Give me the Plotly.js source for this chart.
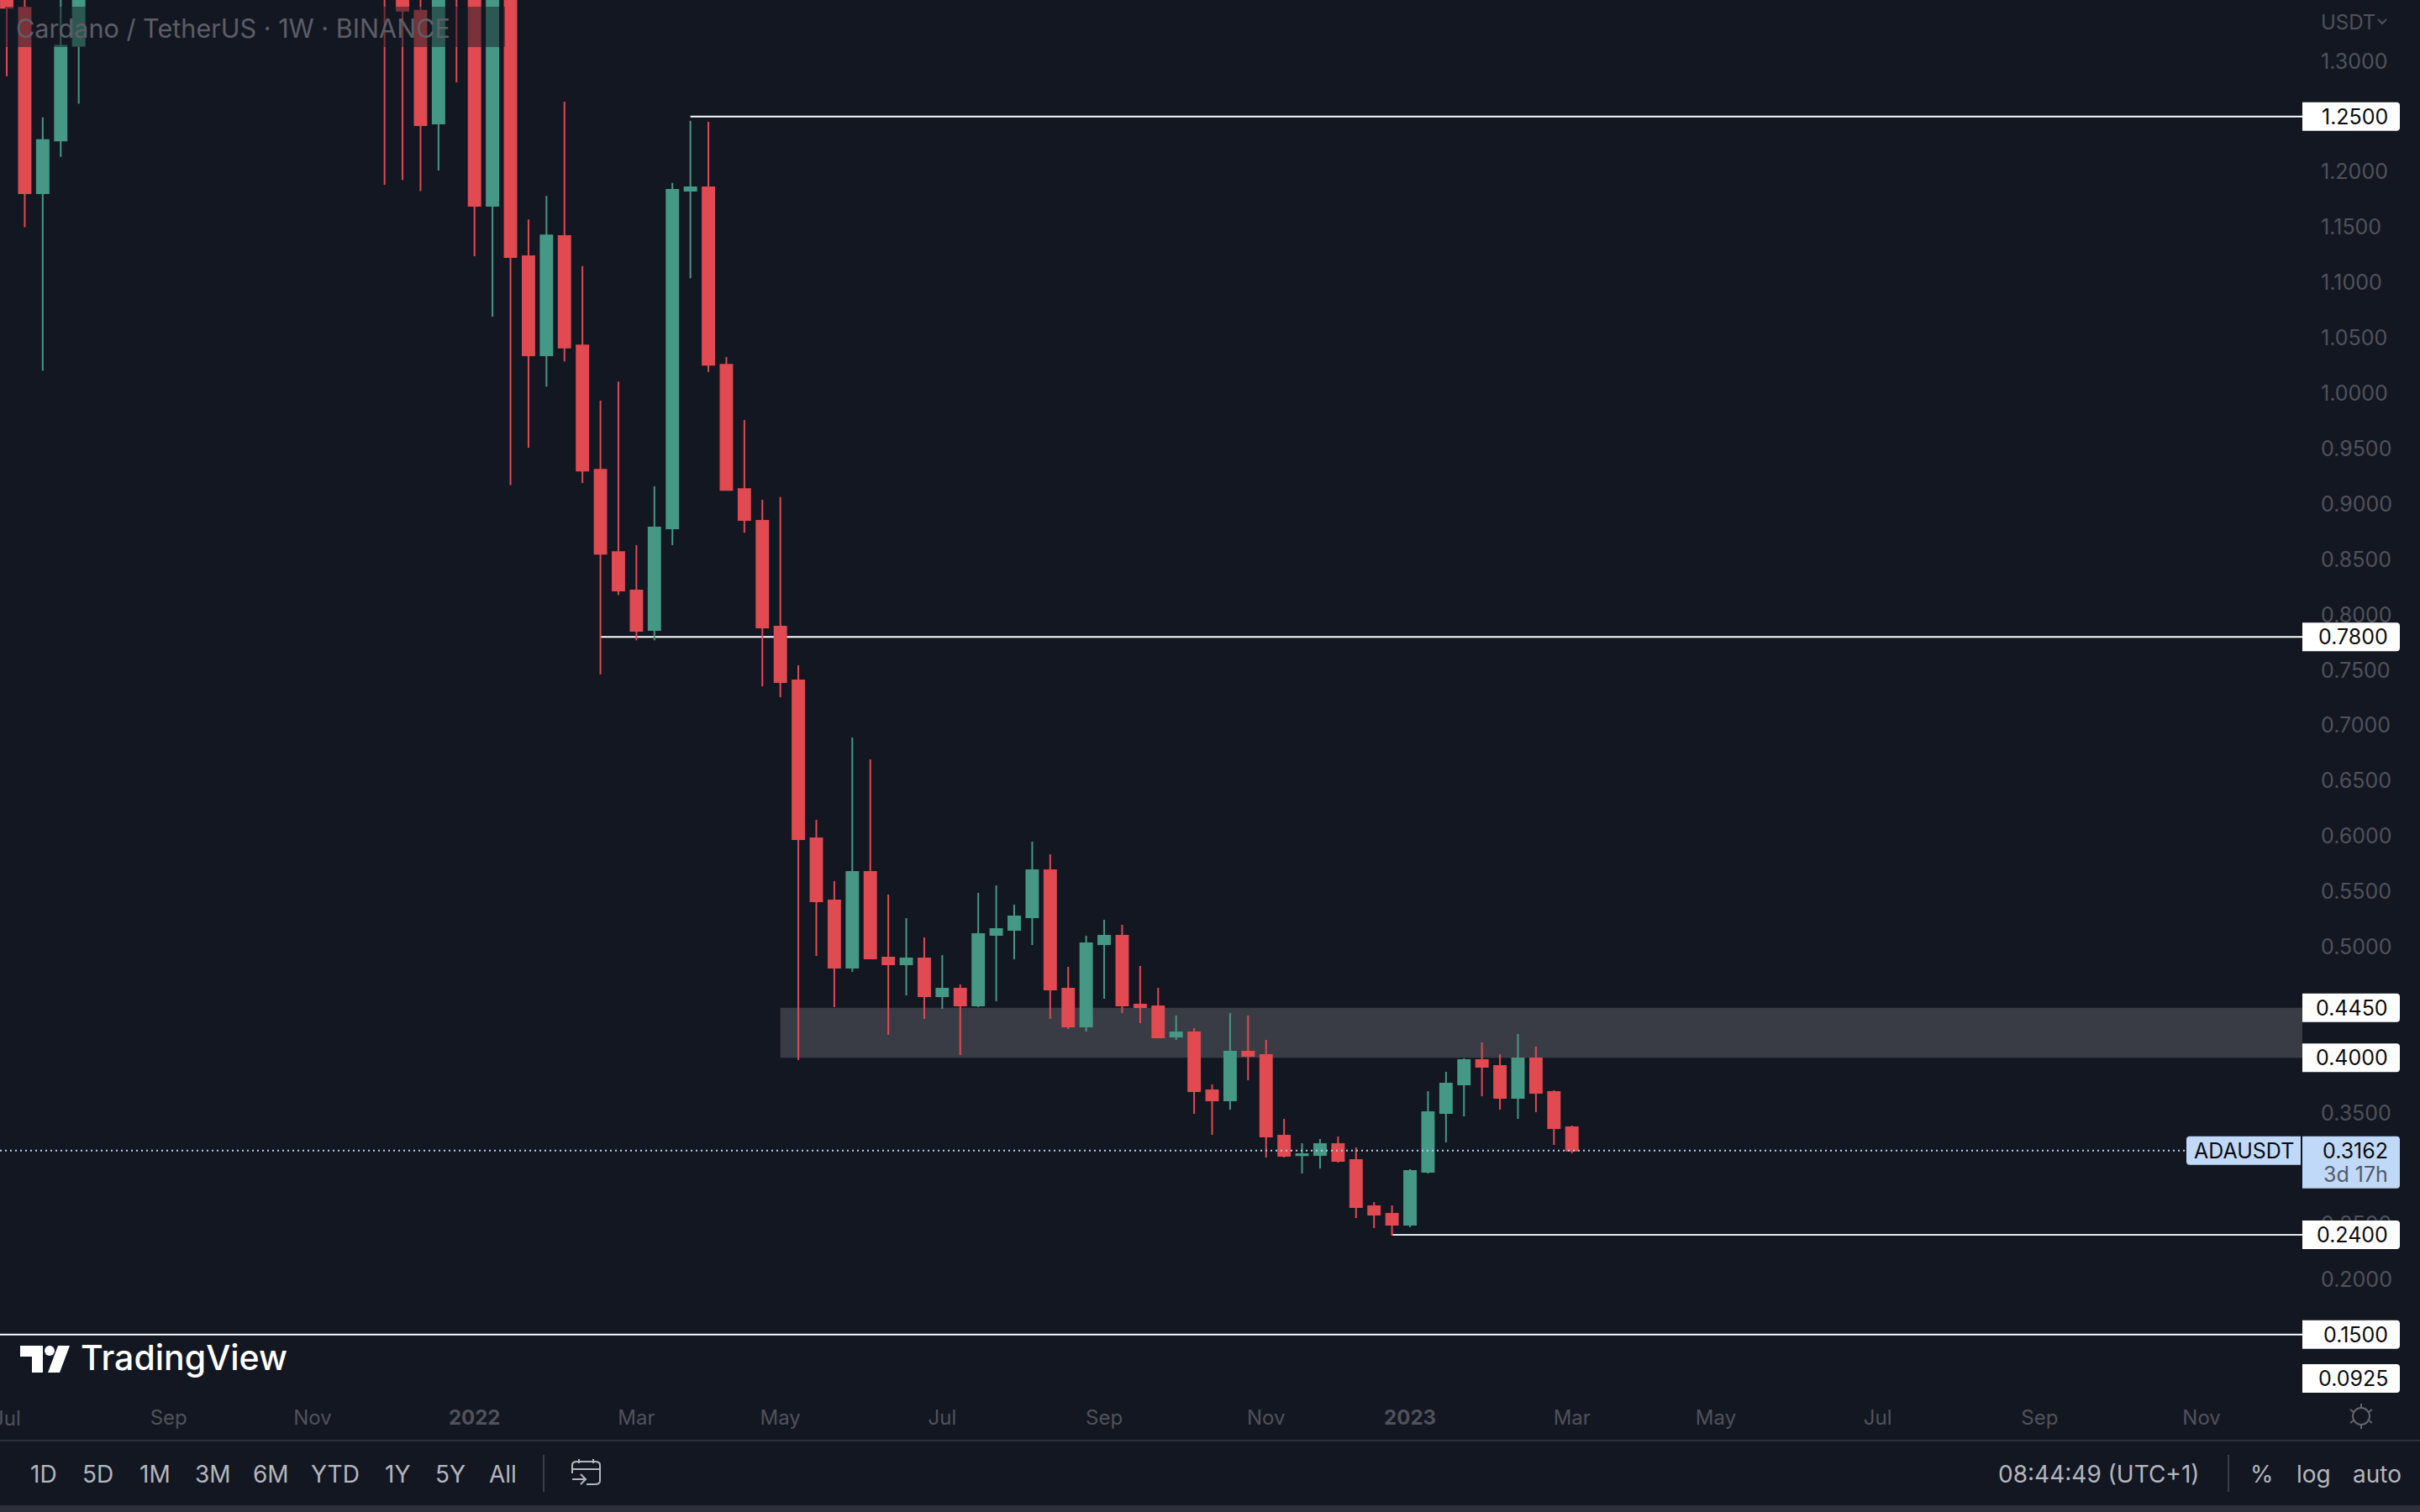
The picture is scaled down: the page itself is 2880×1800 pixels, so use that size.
<!DOCTYPE html>
<html><head><meta charset="utf-8">
<script src="https://cdn.plot.ly/plotly-3.0.1.min.js"></script>
<style>html,body{margin:0;padding:0;background:#131722;overflow:hidden}</style>
</head><body><div id="chart" style="width:2880px;height:1800px"></div>
<script>
const weeks = ["2021-07-05","2021-07-12","2021-07-19","2021-07-26","2021-08-02",
"2021-11-29","2021-12-06","2021-12-13","2021-12-20","2021-12-27",
"2022-01-03","2022-01-10","2022-01-17","2022-01-24","2022-01-31","2022-02-07","2022-02-14","2022-02-21","2022-02-28",
"2022-03-07","2022-03-14","2022-03-21","2022-03-28","2022-04-04","2022-04-11","2022-04-18","2022-04-25",
"2022-05-02","2022-05-09","2022-05-16","2022-05-23","2022-05-30","2022-06-06","2022-06-13","2022-06-20","2022-06-27",
"2022-07-04","2022-07-11","2022-07-18","2022-07-25","2022-08-01","2022-08-08","2022-08-15","2022-08-22","2022-08-29",
"2022-09-05","2022-09-12","2022-09-19","2022-09-26","2022-10-03","2022-10-10","2022-10-17","2022-10-24","2022-10-31",
"2022-11-07","2022-11-14","2022-11-21","2022-11-28","2022-12-05","2022-12-12","2022-12-19","2022-12-26",
"2023-01-02","2023-01-09","2023-01-16","2023-01-23","2023-01-30","2023-02-06","2023-02-13","2023-02-20","2023-02-27","2023-03-06"];
const opens = [1.39,1.3482,1.1807,1.2283,1.3138,
1.60,1.42,1.3455,1.2437,1.42,
1.38,1.1694,1.40,1.1238,1.0343,1.1420,1.0433,0.9310,0.8567,
0.8219,0.7863,0.8780,1.1830,1.1861,1.0258,0.9136,0.8849,
0.7893,0.7407,0.5981,0.5420,0.4813,0.5678,0.4904,0.4843,0.4897,
0.4555,0.4623,0.4472,0.5109,0.5154,0.5268,0.5693,0.4623,0.4282,
0.5025,0.5101,0.4479,0.4464,0.4191,0.4229,0.3705,0.3614,0.4054,
0.4024,0.3296,0.3119,0.3121,0.3220,0.3076,0.2658,0.2590,
0.2492,0.2970,0.3501,0.3758,0.3978,0.3925,0.3637,0.3994,0.3690,0.3372];
const highs = [1.42,1.38,1.2492,1.40,1.50,
1.70,1.50,1.40,1.50,1.45,
1.42,1.42,1.45,1.1570,1.1783,1.2635,1.1149,0.9933,1.0107,
0.8629,0.9159,1.1900,1.2461,1.2453,1.0328,0.9759,0.9039,
0.9063,0.7544,0.6148,0.5594,0.6892,0.6694,0.5473,0.5261,0.5086,
0.4927,0.4661,0.5488,0.5556,0.5382,0.5951,0.5837,0.4821,0.5101,
0.5245,0.5200,0.4828,0.4631,0.4381,0.4267,0.3758,0.4403,0.4381,
0.4161,0.3447,0.3228,0.3265,0.3288,0.3190,0.2696,0.2666,
0.2992,0.3698,0.3872,0.3994,0.4138,0.4032,0.4214,0.4100,0.3705,0.3387];
const lows = [1.2863,1.1501,1.0204,1.2136,1.2615,
1.1884,1.1927,1.1826,1.2012,1.2809,
1.1238,1.0692,0.9171,0.9508,1.0061,1.0289,0.9190,0.7463,0.8180,
0.7770,0.7770,0.8629,1.1040,1.0193,0.9121,0.8741,0.7354,
0.7256,0.3979,0.4919,0.4456,0.4775,0.4897,0.4206,0.4563,0.4350,
0.4441,0.4024,0.4456,0.4510,0.4889,0.5018,0.4350,0.4259,0.4237,
0.4532,0.4403,0.4312,0.4176,0.4161,0.3493,0.3303,0.3531,0.3797,
0.3099,0.3099,0.2954,0.2999,0.3053,0.2552,0.2461,0.2393,
0.2469,0.2954,0.3235,0.3470,0.3652,0.3531,0.3447,0.3508,0.3212,0.3136];
const closes = [1.3482,1.1807,1.2287,1.3138,1.44,
1.42,1.3455,1.2422,1.44,1.37,
1.1694,1.40,1.1230,1.0343,1.1427,1.0413,0.9302,0.8551,0.8219,
0.7855,0.8788,1.1838,1.1861,1.0258,0.9128,0.8857,0.7886,
0.7392,0.5974,0.5412,0.4813,0.5678,0.4897,0.4843,0.4897,0.4555,
0.4623,0.4472,0.5116,0.5162,0.5276,0.5693,0.4616,0.4282,0.5033,
0.5101,0.4472,0.4456,0.4183,0.4229,0.3698,0.3614,0.4054,0.4016,
0.3288,0.3114,0.3129,0.3220,0.3068,0.2651,0.2583,0.2492,
0.2977,0.3508,0.3766,0.3978,0.3918,0.3637,0.3994,0.3683,0.3364,0.3162];

const priceTicks = [1.3,1.2,1.15,1.1,1.05,1,0.95,0.9,0.85,0.8,0.75,0.7,0.65,0.6,0.55,0.5,0.35,0.25,0.2];
const monthTicks = ["2021-09-06","2021-11-01","2022-01-03","2022-03-07","2022-05-02","2022-07-04","2022-09-05","2022-11-07","2023-01-02","2023-03-06","2023-05-01","2023-07-03","2023-09-04","2023-11-06"];
const monthLabels = ["Sep","Nov","<b>2022</b>","Mar","May","Jul","Sep","Nov","<b>2023</b>","Mar","May","Jul","Sep","Nov"];
const firstMonthTick = "2021-07-05", firstMonthLabel = "Jul";

const levelPrices = [1.25,0.78,0.24,0.15];
const levelStarts = ["2022-03-28","2022-02-21","2022-12-26","2021-06-01"];
const zoneTop = 0.445, zoneBottom = 0.40, zoneStart = "2022-05-02";
const lastPrice = 0.3162;
const labelledPrices = [1.25,0.78,0.445,0.40,0.24,0.15];
const labelTexts = ["1.2500","0.7800","0.4450","0.4000","0.2400","0.1500"];
const bottomLabel = "0.0925";
const periods = ["1D","5D","1M","3M","6M","YTD","1Y","5Y","All"];
const periodCentres = [52,116,184,253,322,399,473,536,598];

const BG="#131722", RED="#e04a50", GREEN="#459885", DIM="#50525b", LBL="#c1d9f9", UI="#b4b6be", RULE="#2d2f3a";
const PW=2740, PH=1658;
const X=p=>p/PW, Y=p=>1-p/PH;
const font="Inter, 'Noto Sans', sans-serif";

const shapes=[];
shapes.push({type:"rect",layer:"below",xref:"x",yref:"y",x0:zoneStart,x1:"2023-12-16",y0:zoneBottom,y1:zoneTop,fillcolor:"#3a3c45",line:{width:0}});
levelPrices.forEach((p,i)=>shapes.push({type:"line",layer:"below",xref:"x",yref:"y",x0:levelStarts[i],x1:"2023-12-16",y0:p,y1:p,line:{color:i==2?"#e8e8e8":"#ffffff",width:2}}));
shapes.push({type:"line",layer:"above",xref:"paper",yref:"y",x0:0,x1:X(2602),y0:lastPrice,y1:lastPrice,line:{color:"#b9cff0",width:2,dash:"2px,4px"}});
shapes.push({type:"rect",layer:"above",xref:"paper",yref:"paper",x0:X(6),x1:X(601),y0:Y(56),y1:Y(8),fillcolor:"rgba(19,23,34,0.5)",line:{width:0}});
const plate="M0,-17 H112 Q116,-17 116,-13 V13 Q116,17 112,17 H0 Z";
labelledPrices.forEach(p=>shapes.push({type:"path",layer:"above",xref:"paper",yref:"y",xsizemode:"pixel",ysizemode:"pixel",xanchor:1,yanchor:p,path:plate,fillcolor:"#ffffff",line:{width:0}}));
shapes.push({type:"path",layer:"above",xref:"paper",yref:"paper",xsizemode:"pixel",ysizemode:"pixel",xanchor:1,yanchor:Y(1641),path:plate,fillcolor:"#ffffff",line:{width:0}});
shapes.push({type:"path",layer:"above",xref:"paper",yref:"y",xsizemode:"pixel",ysizemode:"pixel",xanchor:1,yanchor:lastPrice,path:"M0,17 H112 Q116,17 116,13 V-41 Q116,-45 112,-45 H0 Z",fillcolor:LBL,line:{width:0}});
shapes.push({type:"path",layer:"above",xref:"paper",yref:"y",xsizemode:"pixel",ysizemode:"pixel",xanchor:1,yanchor:lastPrice,path:"M-2,17 H-134 Q-138,17 -138,13 V-13 Q-138,-17 -134,-17 H-2 Z",fillcolor:LBL,line:{width:0}});
shapes.push({type:"path",layer:"above",xref:"paper",yref:"paper",path:`M${X(2830)},${Y(23)} L${X(2835)},${Y(28)} L${X(2840)},${Y(23)}`,line:{color:DIM,width:2}});
shapes.push({type:"path",layer:"above",xref:"paper",yref:"paper",path:`M${X(24)},${Y(1602)} H${X(51)} V${Y(1634)} H${X(38)} V${Y(1615)} H${X(24)} Z`,fillcolor:"#ffffff",line:{width:0}});
shapes.push({type:"circle",layer:"above",xref:"paper",yref:"paper",x0:X(53),x1:X(65),y0:Y(1614),y1:Y(1602),fillcolor:"#ffffff",line:{width:0}});
shapes.push({type:"path",layer:"above",xref:"paper",yref:"paper",path:`M${X(69)},${Y(1602)} H${X(83)} L${X(71)},${Y(1634)} H${X(57)} Z`,fillcolor:"#ffffff",line:{width:0}});
shapes.push({type:"rect",layer:"above",xref:"paper",yref:"paper",x0:0,x1:X(2880),y0:Y(1716),y1:Y(1714),fillcolor:RULE,line:{width:0}});
shapes.push({type:"rect",layer:"above",xref:"paper",yref:"paper",x0:0,x1:X(2880),y0:Y(1800),y1:Y(1792),fillcolor:RULE,line:{width:0}});
[647,2652].forEach(v=>shapes.push({type:"line",layer:"above",xref:"paper",yref:"paper",x0:X(v),x1:X(v),y0:Y(1776),y1:Y(1732),line:{color:"#3a3c47",width:2}}));
shapes.push({type:"path",layer:"above",xref:"paper",yref:"paper",path:`M${X(698)},${Y(1767)} H${X(708)} Q${X(714)},${Y(1767)} ${X(714)},${Y(1763)} V${Y(1744)} Q${X(714)},${Y(1740)} ${X(708)},${Y(1740)} H${X(687)} Q${X(681)},${Y(1740)} ${X(681)},${Y(1744)} V${Y(1754)} M${X(681)},${Y(1749)} H${X(714)} M${X(689)},${Y(1737)} V${Y(1742)} M${X(706)},${Y(1737)} V${Y(1742)} M${X(681)},${Y(1761)} H${X(697)} M${X(691)},${Y(1755)} L${X(697)},${Y(1761)} L${X(691)},${Y(1767)}`,line:{color:UI,width:2}});
const SUN="#64666e";
shapes.push({type:"circle",layer:"above",xref:"paper",yref:"paper",x0:X(2800),x1:X(2820),y0:Y(1696),y1:Y(1676),line:{color:SUN,width:2}});
shapes.push({type:"path",layer:"above",xref:"paper",yref:"paper",path:`M${X(2810)},${Y(1671)} V${Y(1676)} M${X(2810)},${Y(1696)} V${Y(1701)} M${X(2797)},${Y(1678)} L${X(2801)},${Y(1681)} M${X(2819)},${Y(1691)} L${X(2823)},${Y(1694)} M${X(2797)},${Y(1694)} L${X(2801)},${Y(1691)} M${X(2819)},${Y(1681)} L${X(2823)},${Y(1678)}`,line:{color:SUN,width:2}});

const ann=[];
const note=(text,px,py,anchor,size,color,extra)=>ann.push(Object.assign({text,xref:"paper",yref:"paper",x:X(px),y:Y(py),xanchor:anchor,yanchor:"middle",showarrow:false,borderpad:0,font:{family:font,size,color}},extra||{}));
labelledPrices.forEach((p,i)=>ann.push({text:labelTexts[i],xref:"paper",yref:"y",x:X(2843),y:p,xanchor:"right",yanchor:"middle",showarrow:false,borderpad:0,font:{family:font,size:25,color:"#0c0c0f"}}));
note(bottomLabel,2843,1641,"right",25,"#0c0c0f");
ann.push({text:lastPrice.toFixed(4),xref:"paper",yref:"y",x:X(2843),y:lastPrice,xanchor:"right",yanchor:"middle",showarrow:false,borderpad:0,font:{family:font,size:25,color:"#0c0c0f"}});
note("3d 17h",2843,1398,"right",25,"#4f5a68");
ann.push({text:"ADAUSDT",xref:"paper",yref:"y",x:X(2670),y:lastPrice,xanchor:"center",yanchor:"middle",showarrow:false,borderpad:0,font:{family:font,size:25,color:"#0c0c0f"}});
note("USDT",2761,27,"left",24,DIM);
note("Cardano / TetherUS · 1W · BINANCE",18,33,"left",30.6,"#5c5e66");
note("TradingView",95,1616,"left",41,"#ffffff",{font:{family:font,size:41,color:"#ffffff",weight:500}});
ann.push({text:firstMonthLabel,xref:"x",yref:"paper",x:firstMonthTick,y:Y(1688),xanchor:"center",yanchor:"middle",showarrow:false,borderpad:0,font:{family:font,size:24,color:DIM}});
periods.forEach((t,i)=>note(t,periodCentres[i],1755,"center",28,UI));
note("08:44:49 (UTC+1)",2498,1755,"center",28,UI);
note("%",2692,1755,"center",28,UI);
note("log",2753,1755,"center",28,UI);
note("auto",2829,1755,"center",28,UI);

const trace={type:"candlestick",x:weeks,open:opens,high:highs,low:lows,close:closes,
  increasing:{line:{color:GREEN,width:2},fillcolor:GREEN},
  decreasing:{line:{color:RED,width:2},fillcolor:RED},
  whiskerwidth:0,hoverinfo:"skip",showlegend:false};

const layout={width:2880,height:1800,paper_bgcolor:BG,plot_bgcolor:BG,
  margin:{l:0,r:140,t:0,b:142,pad:0},showlegend:false,boxgap:0.35,boxgroupgap:0,
  xaxis:{type:"date",range:["2021-07-02 09:00","2023-12-15 05:00"],rangeslider:{visible:false},showgrid:false,zeroline:false,showline:false,
    tickmode:"array",tickvals:monthTicks,ticktext:monthLabels,ticks:"outside",ticklen:8,tickcolor:"rgba(0,0,0,0)",
    tickfont:{family:font,size:24,color:DIM}},
  yaxis:{side:"right",range:[1.35522-1658*0.00075861,1.35522],showgrid:false,zeroline:false,showline:false,
    tickmode:"array",tickvals:priceTicks,ticktext:priceTicks.map(v=>v.toFixed(4)),ticks:"outside",ticklen:16,tickcolor:"rgba(0,0,0,0)",
    tickfont:{family:font,size:25,color:DIM}},
  shapes,annotations:ann};
Plotly.newPlot("chart",[trace],layout,{staticPlot:true,displayModeBar:false});
</script></body></html>
